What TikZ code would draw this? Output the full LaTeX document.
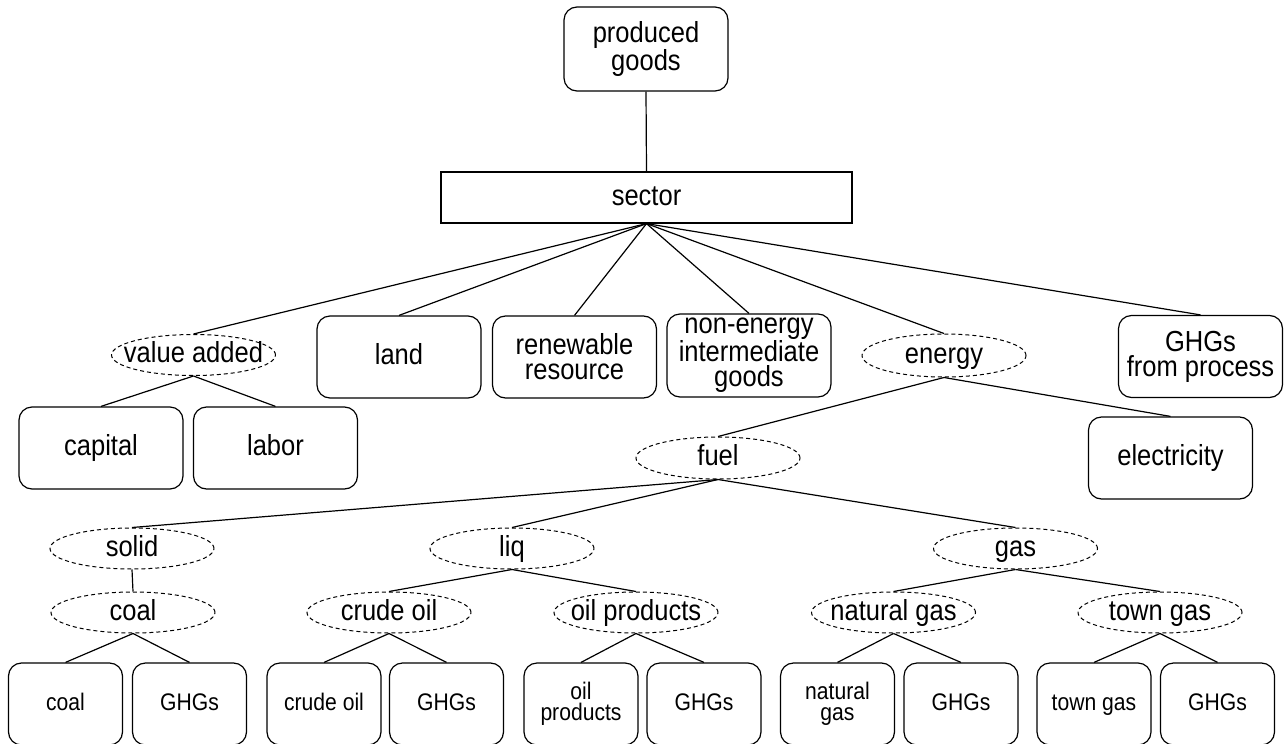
\documentclass[tikz,border=0pt]{standalone}
\usepackage{fontspec}
\setmainfont{Liberation Sans}[FakeStretch=0.88]
\usetikzlibrary{shapes.geometric}
\tikzset{%
    txtbig/.style={font=\fontsize{29}{25}\selectfont},%
    txtsmall/.style={font=\fontsize{24}{20.5}\selectfont},%
    oneline/.style={text height=21pt, text depth=6pt},%
    pbox/.style={draw, rounded corners=13pt, line width=1.2pt, minimum width=164pt, minimum height=82pt, inner sep=0pt, align=center, txtbig},%
    leafbox/.style={pbox, minimum width=114pt, txtsmall},%
    sectbox/.style={draw, line width=1.2pt, minimum width=411pt, minimum height=51pt, inner sep=0pt, txtbig, oneline},%
    nestoval/.style={draw, ellipse, dash pattern=on 4pt off 3pt, line width=1pt, minimum width=164pt, minimum height=41pt, inner sep=0pt, txtbig, oneline},%
    link/.style={line width=1.2pt},%
}

\begin{document}
\begin{tikzpicture}[x=1pt,y=1pt,yscale=-1,xscale=1]
%set diagram to the full frame
\useasboundingbox (0,0) rectangle (1285,744);

%Top: produced goods and sector
\node[pbox, minimum height=84pt] (prodgoods) at (646,49) {produced\\goods};
\node[sectbox] (sector) at (646.5,197.5) {sector};

%Level 1
\node[nestoval] (valadd) at (193.5,355) {\makebox[0pt]{value added}};
\node[pbox, oneline] (land) at (399,357) {land};
\node[pbox] (renew) at (574.5,357) {renewable\\resource};
\node[pbox, minimum height=83pt] (nonenergy) at (749,355.5) {non-energy\\intermediate\\goods};
\node[nestoval, minimum height=43pt] (energy) at (944,355.5) {\makebox[0pt]{energy}};
\node[pbox] (ghgproc) at (1200.5,356.5) {GHGs\\from process};

%Level 2
\node[pbox, oneline] (capital) at (101,448) {capital};
\node[pbox, oneline] (labor) at (275.5,448) {labor};
\node[nestoval, minimum height=42pt] (fuel) at (718,458) {\makebox[0pt]{fuel}};
\node[pbox, oneline] (elec) at (1170.5,458) {electricity};

%Level 3: fuel types
\node[nestoval] (solid) at (132,548.5) {\makebox[0pt]{solid}};
\node[nestoval] (liq) at (512,548.5) {\makebox[0pt]{liq}};
\node[nestoval] (gas) at (1015.5,548.5) {\makebox[0pt]{gas}};

%Level 4: nests
\node[nestoval] (coalnest) at (133,612.5) {\makebox[0pt]{coal}};
\node[nestoval] (crudenest) at (389,612.5) {\makebox[0pt]{crude oil}};
\node[nestoval] (oilpnest) at (636,612.5) {\makebox[0pt]{oil products}};
\node[nestoval] (natgnest) at (893.5,612.5) {\makebox[0pt]{natural gas}};
\node[nestoval] (townnest) at (1160,612.5) {\makebox[0pt]{town gas}};

%Level 5: leaves
\node[leafbox, text height=17.5pt, text depth=5pt] (coal) at (65.5,704) {coal};
\node[leafbox, text height=17.5pt, text depth=5pt] (ghgcoal) at (189.5,704) {GHGs};
\node[leafbox, text height=17.5pt, text depth=5pt] (crude) at (324,704) {crude oil};
\node[leafbox, text height=17.5pt, text depth=5pt] (ghgcrude) at (446.5,704) {GHGs};
\node[leafbox] (oilp) at (581,704) {oil\\products};
\node[leafbox, text height=17.5pt, text depth=5pt] (ghgoilp) at (704,704) {GHGs};
\node[leafbox] (natg) at (837.5,704) {natural\\gas};
\node[leafbox, text height=17.5pt, text depth=5pt] (ghgnatg) at (961,704) {GHGs};
\node[leafbox, text height=17.5pt, text depth=5pt] (town) at (1094,704) {town gas};
\node[leafbox, text height=17.5pt, text depth=5pt] (ghgtown) at (1217.5,704) {GHGs};

%Connectors
\draw[link] (prodgoods.south) -- (sector.north);
\draw[link] (sector.south) -- (valadd.north);
\draw[link] (sector.south) -- (land.north);
\draw[link] (sector.south) -- (renew.north);
\draw[link] (sector.south) -- (nonenergy.north);
\draw[link] (sector.south) -- (energy.north);
\draw[link] (sector.south) -- (ghgproc.north);
\draw[link] (valadd.south) -- (capital.north);
\draw[link] (valadd.south) -- (labor.north);
\draw[link] (energy.south) -- (fuel.north);
\draw[link] (energy.south) -- (elec.north);
\draw[link] (fuel.south) -- (solid.north);
\draw[link] (fuel.south) -- (liq.north);
\draw[link] (fuel.south) -- (gas.north);
\draw[link] (solid.south) -- (coalnest.north);
\draw[link] (liq.south) -- (crudenest.north);
\draw[link] (liq.south) -- (oilpnest.north);
\draw[link] (gas.south) -- (natgnest.north);
\draw[link] (gas.south) -- (townnest.north);
\draw[link] (coalnest.south) -- (coal.north);
\draw[link] (coalnest.south) -- (ghgcoal.north);
\draw[link] (crudenest.south) -- (crude.north);
\draw[link] (crudenest.south) -- (ghgcrude.north);
\draw[link] (oilpnest.south) -- (oilp.north);
\draw[link] (oilpnest.south) -- (ghgoilp.north);
\draw[link] (natgnest.south) -- (natg.north);
\draw[link] (natgnest.south) -- (ghgnatg.north);
\draw[link] (townnest.south) -- (town.north);
\draw[link] (townnest.south) -- (ghgtown.north);

\end{tikzpicture}
\end{document}
